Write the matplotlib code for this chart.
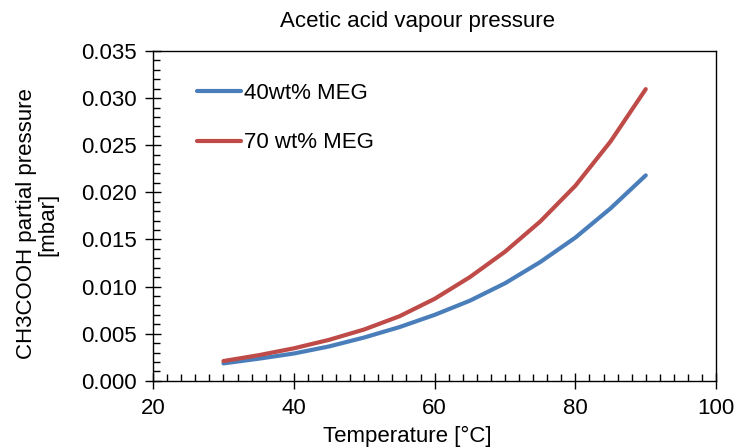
import matplotlib
matplotlib.use("Agg")
import matplotlib.pyplot as plt
from matplotlib.ticker import MultipleLocator, FormatStrFormatter

# ===========================================
# donnees
# ===========================================
temperature = [30, 35, 40, 45, 50, 55, 60, 65, 70, 75, 80, 85, 90]
p_meg40 = [0.00185, 0.00235, 0.00290, 0.00365, 0.00460, 0.00570, 0.00700,
           0.00850, 0.01035, 0.01260, 0.01520, 0.01830, 0.02180]
p_meg70 = [0.00210, 0.00272, 0.00345, 0.00435, 0.00545, 0.00685, 0.00870,
           0.01100, 0.01370, 0.01690, 0.02070, 0.02540, 0.03095]
labels = ["40wt% MEG", "70 wt% MEG"]

plt.rcParams["font.family"] = ["Liberation Sans", "DejaVu Sans"]
plt.rcParams["font.size"] = 16

fig = plt.figure(figsize=(7.36, 4.47), dpi=100)
ax = fig.add_axes([0.208, 0.148, 0.765, 0.738])

ax.plot(temperature, p_meg40, color="#4a7ebb", lw=3, label=labels[0], solid_capstyle="round")
ax.plot(temperature, p_meg70, color="#be4b48", lw=3, label=labels[1], solid_capstyle="round")

ax.set_xlim(20, 100)
ax.set_ylim(0, 0.035)
ax.xaxis.set_major_locator(MultipleLocator(20))
ax.xaxis.set_minor_locator(MultipleLocator(2))
ax.yaxis.set_major_locator(MultipleLocator(0.005))
ax.yaxis.set_minor_locator(MultipleLocator(0.001))
ax.yaxis.set_major_formatter(FormatStrFormatter("%.3f"))
ax.tick_params(which="major", direction="inout", length=12, width=1, pad=6)
ax.tick_params(which="minor", direction="in", length=5, width=1)
for s in ax.spines.values():
    s.set_linewidth(1)

ax.legend(loc="upper left", bbox_to_anchor=(0.078, 0.903), frameon=False,
          handlelength=2.0, handletextpad=0.1, labelspacing=1.28,
          borderpad=0, borderaxespad=0)

fig.text(418 / 736, 1 - 22 / 447, "Acetic acid vapour pressure", ha="center", va="center")
fig.text(37 / 736, 1 - 224 / 447, "CH3COOH partial pressure\n[mbar]",
         ha="center", va="center", rotation=90, linespacing=1.05)
fig.text(407 / 736, 1 - 436 / 447, "Temperature [°C]", ha="center", va="center")

fig.savefig("out.png", dpi=100)
